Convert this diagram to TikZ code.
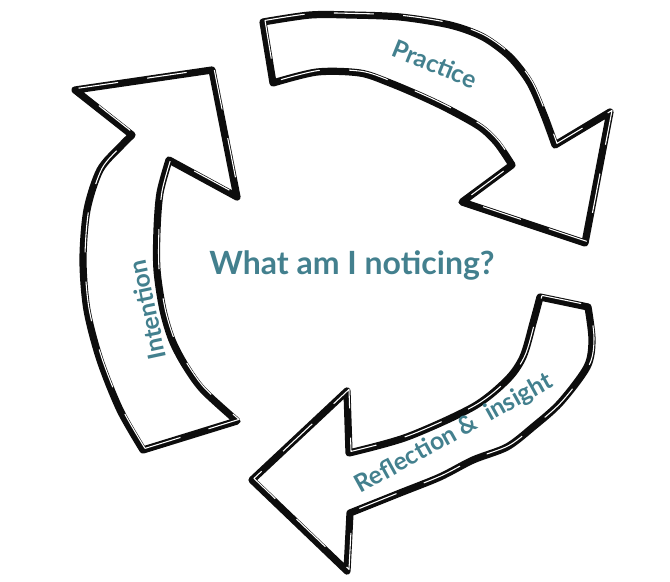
\documentclass[tikz,border=0pt]{standalone}
\usepackage{fontspec}
\setmainfont{Lato}
\usepackage{tikz}
\definecolor{noticeteal}{HTML}{43808E}
\colorlet{sketchink}{black!95}
\tikzset{
  cycle/ink/.style={draw=sketchink, fill=white, line width=5.4pt, line join=round, line cap=round},
  cycle/gap/.style={draw=white, line width=0.8pt, line join=round, xshift=1.5pt, yshift=1.2pt, dash pattern=on 30pt off 22pt},
  cycle/label/.style={text=noticeteal, font=\bfseries\fontsize{18.5}{22}\selectfont, inner sep=0pt}
}

\begin{document}
\begin{tikzpicture}[x=0.75pt, y=-0.75pt]
  \useasboundingbox (0,0) rectangle (670,581);
\foreach \sty in {cycle/ink, cycle/gap} {
  \draw[\sty] (263,22) -- plot[smooth] coordinates {(263,22) (310,15) (350,15) (400,17) (450,25) (483,37) (510,57) (530,83) (544,115) (555,145)}
    -- (610,112) -- (585,243) -- (462,202) -- (512,165)
    -- plot[smooth] coordinates {(512,165) (497,143) (480,127) (450,110) (423,97) (390,83) (360,73) (317,72) (273,83)} -- cycle;
  \draw[\sty] (143,450) -- plot[smooth] coordinates {(143,450) (120,410) (100,360) (87,310) (83,260) (87,210) (100,170) (120,147) (132,135)}
    -- (75,90) -- (212,70) -- (237,197) -- (169,160)
    -- plot[smooth] coordinates {(169,160) (160,193) (157,230) (157,270) (163,310) (172,340) (185,365) (203,390) (237,421)} -- cycle;
  \draw[\sty] (540,297) -- (588,307) -- plot[smooth] coordinates {(588,307) (592,340) (587,367) (560,403) (533,427) (507,447) (473,460) (440,477) (400,493) (350,513)}
    -- (347,571) -- (252,480) -- (347,391) -- (349,453)
    -- plot[smooth] coordinates {(349,453) (407,437) (473,407) (507,380) (523,357) (533,323) (540,297)};
}
\node[cycle/label, rotate=-22] (practice) at (435,64) {Practice};
\node[cycle/label, rotate=102] (intention) at (147,310) {Intention};
\node[cycle/label, rotate=29] (reflection) at (454,434) {Reflection \&\ \ insight};
\node[text=noticeteal, font=\bfseries\fontsize{24}{28}\selectfont] (noticing) at (352,265) {What am I noticing?};
\end{tikzpicture}
\end{document}
